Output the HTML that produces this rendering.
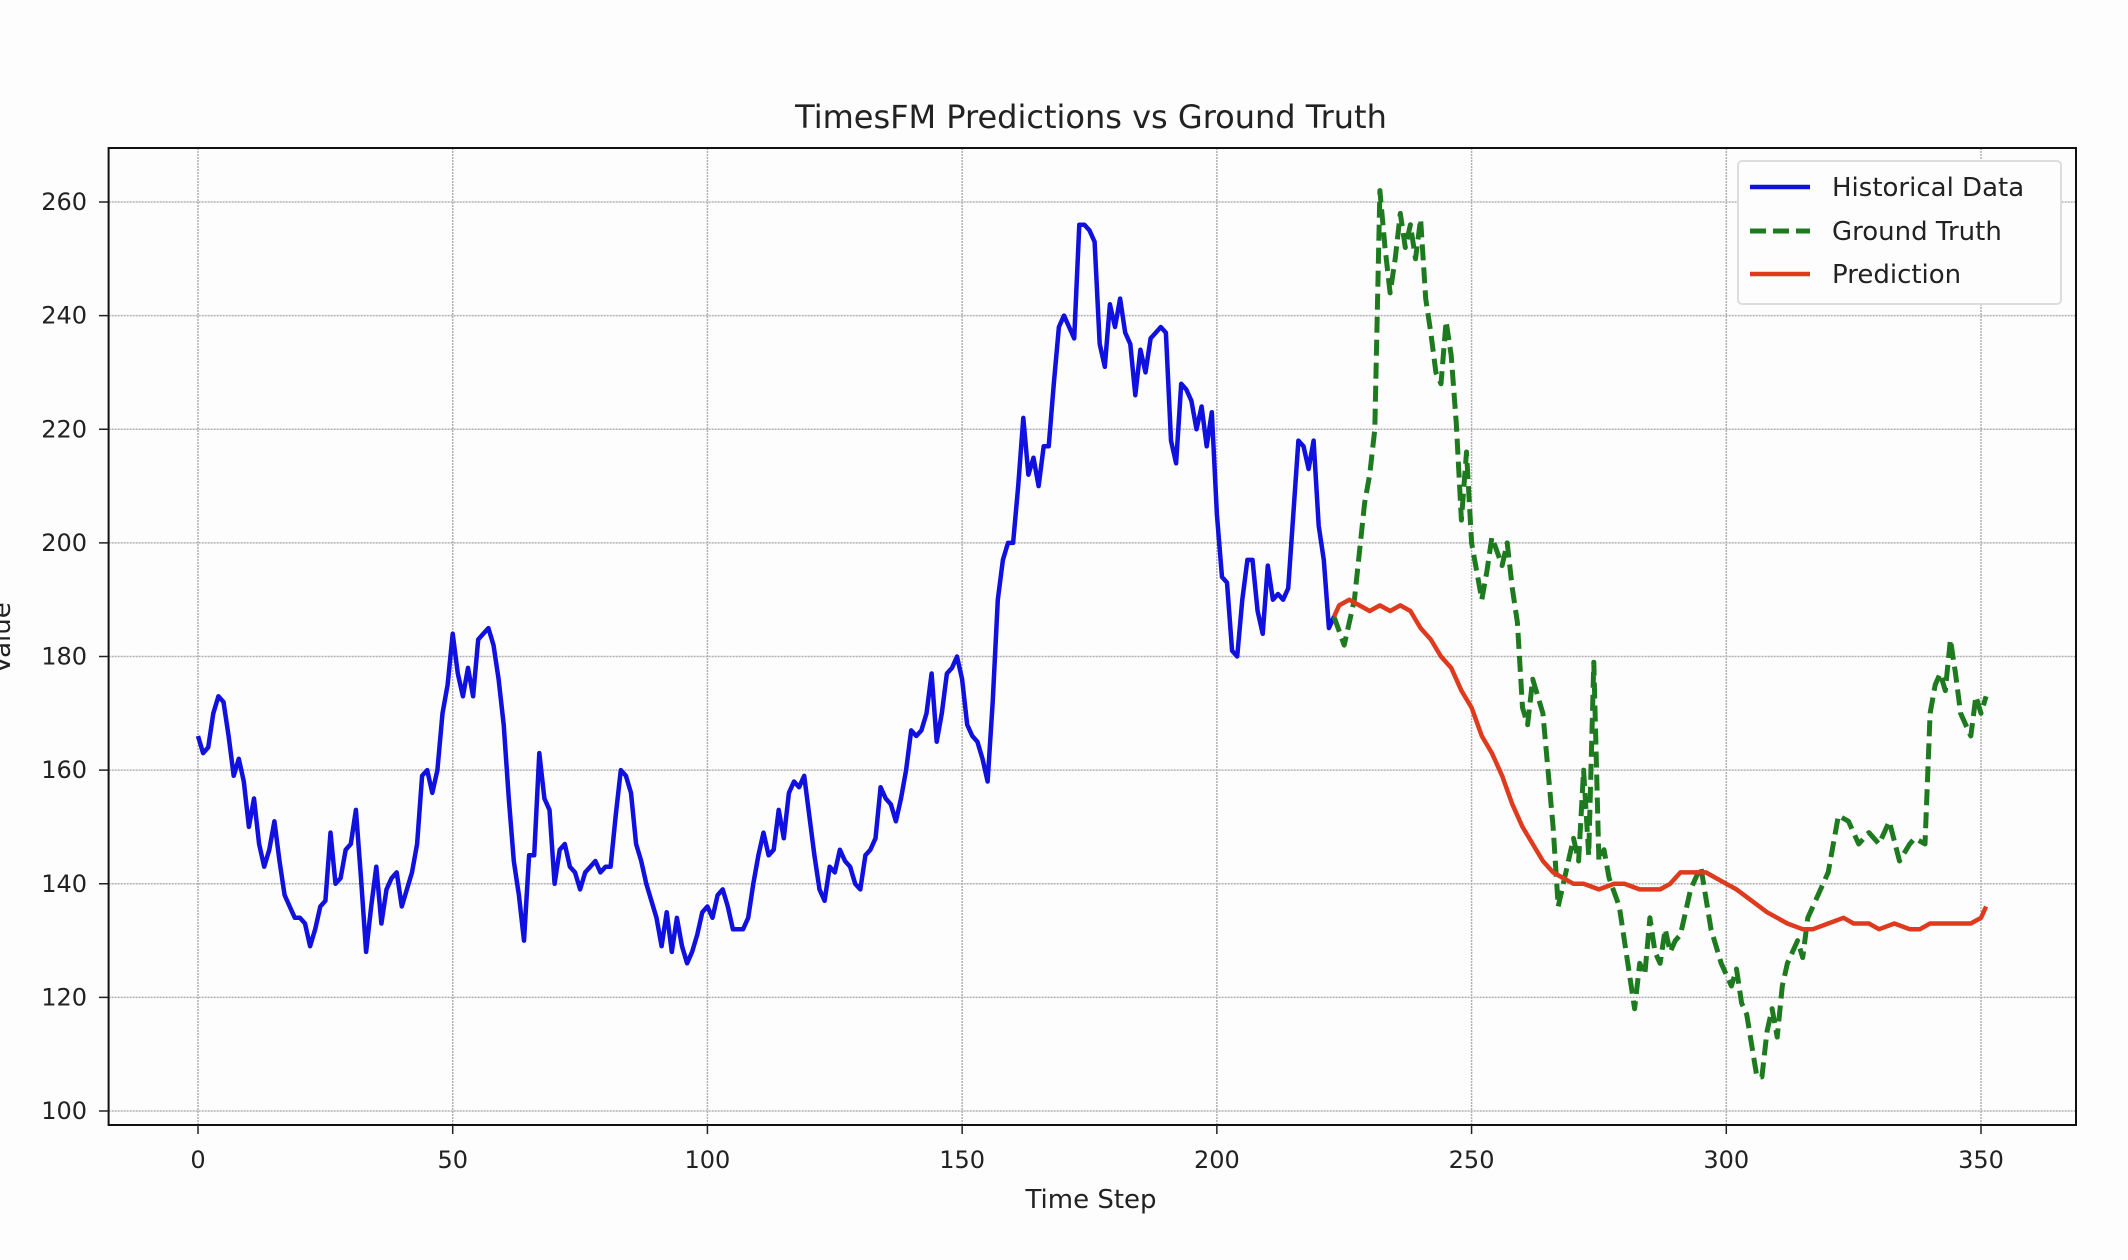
<!DOCTYPE html>
<html><head><meta charset="utf-8"><style>
html,body{margin:0;padding:0;background:#fdfdfd;}
svg{display:block;font-family:"DejaVu Sans","Liberation Sans",sans-serif;}
</style></head><body>
<svg id="chart" width="2128" height="1260" viewBox="0 0 2128 1260" xmlns="http://www.w3.org/2000/svg">
<rect x="0" y="0" width="2128" height="1260" fill="#fdfdfd"/>
<g id="grid"></g>
<g id="series"></g>
<rect x="108.6" y="148" width="1967.4" height="977" fill="none" stroke="#111" stroke-width="2"/>
<g id="ticks"></g>
<text x="1091" y="128" font-size="32" text-anchor="middle" fill="#222">TimesFM Predictions vs Ground Truth</text>
<text x="1091" y="1208" font-size="26" text-anchor="middle" fill="#222">Time Step</text>
<text x="0" y="0" font-size="26" text-anchor="middle" fill="#222" transform="translate(10,638) rotate(-90)">Value</text>
<g>
<rect x="1738" y="161" width="323" height="143" rx="4" fill="#fdfdfd" stroke="#ddd" stroke-width="2"/>
<line x1="1750" y1="187" x2="1810" y2="187" stroke="#1010e0" stroke-width="4.5"/>
<text x="1832" y="196" font-size="26" fill="#222">Historical Data</text>
<line x1="1750" y1="231" x2="1810" y2="231" stroke="#1e7a1e" stroke-width="5" stroke-dasharray="16,7"/>
<text x="1832" y="240" font-size="26" fill="#222">Ground Truth</text>
<line x1="1750" y1="274" x2="1810" y2="274" stroke="#e03a1e" stroke-width="4.5"/>
<text x="1832" y="283" font-size="26" fill="#222">Prediction</text>
</g>
</svg>
<script>
const histValues=[166,163,164,170,173,172,166,159,162,158,150,155,147,143,146,151,144,138,136,134,134,133,129,132,136,137,149,140,141,146,147,153,141,128,136,143,133,139,141,142,136,139,142,147,159,160,156,160,170,175,184,177,173,178,173,183,184,185,182,176,168,155,144,138,130,145,145,163,155,153,140,146,147,143,142,139,142,143,144,142,143,143,152,160,159,156,147,144,140,137,134,129,135,128,134,129,126,128,131,135,136,134,138,139,136,132,132,132,134,140,145,149,145,146,153,148,156,158,157,159,152,145,139,137,143,142,146,144,143,140,139,145,146,148,157,155,154,151,155,160,167,166,167,170,177,165,170,177,178,180,176,168,166,165,162,158,172,190,197,200,200,210,222,212,215,210,217,217,228,238,240,238,236,256,256,255,253,235,231,242,238,243,237,235,226,234,230,236,237,238,237,218,214,228,227,225,220,224,217,223,205,194,193,181,180,190,197,197,188,184,196,190,191,190,192,205,218,217,213,218,203,197,185,187];
const gtSteps=[223,225,227,229,230,231,232,233,234,235,236,237,238,239,240,241,242,243,244,245,246,247,248,249,250,252,253,254,256,257,258,259,260,261,262,264,266,267,268,270,271,272,273,274,275,276,277,279,282,283,284,285,286,287,288,289,290,291,293,295,297,299,301,302,303,304,306,307,308,309,310,311,312,313,314,315,316,317,318,319,320,322,324,326,328,330,332,334,336,337,339,340,341,342,343,344,345,346,347,348,349,350,351];
const gtValues=[187,182,190,207,212,220,262,252,244,250,258,252,256,250,257,243,237,230,228,239,233,221,204,216,200,190,195,201,196,200,192,186,171,168,176,170,150,136,140,148,144,160,145,179,144,146,141,136,118,126,124,134,128,126,132,128,130,131,139,143,132,126,122,125,119,117,106,106,114,118,113,122,126,128,130,127,134,136,138,140,142,152,151,147,149,147,151,144,147,148,147,170,175,177,174,183,177,170,168,166,173,170,173];
const predSteps=[223,224,226,228,230,232,234,236,238,240,242,244,246,248,250,252,254,256,258,260,262,264,266,268,270,272,275,278,280,283,285,287,289,291,294,296,298,300,302,305,308,310,312,315,317,320,323,325,328,330,333,336,338,340,342,345,348,350,351];
const predValues=[187,189,190,189,188,189,188,189,188,185,183,180,178,174,171,166,163,159,154,150,147,144,142,141,140,140,139,140,140,139,139,139,140,142,142,142,141,140,139,137,135,134,133,132,132,133,134,133,133,132,133,132,132,133,133,133,133,134,136];
const xTicks=[0,50,100,150,200,250,300,350];
const yTicks=[100,120,140,160,180,200,220,240,260];
const histStart=0;
</script>
<script>
const NS='http://www.w3.org/2000/svg';
const X0=198,X1=1981,T0=0,T1=350;
const Y0=1111,Y1=202,V0=100,V1=260;
function xs(t){return X0+(t-T0)*(X1-X0)/(T1-T0);}
function ys(v){return Y0-(v-V0)*(Y0-Y1)/(V1-V0);}
const grid=document.getElementById('grid');
const ticks=document.getElementById('ticks');
const series=document.getElementById('series');
function mk(tag,attrs,parent){const e=document.createElementNS(NS,tag);for(const k in attrs)e.setAttribute(k,attrs[k]);parent.appendChild(e);return e;}
xTicks.forEach(t=>{
  const g=mk('line',{x1:xs(t),x2:xs(t),y1:148,y2:1125,stroke:'#b0b0b0','stroke-width':1.5,'stroke-dasharray':'2,1'},grid);
  
  
  const tk=mk('line',{x1:xs(t),x2:xs(t),y1:1125,y2:1134,stroke:'#222','stroke-width':1.5},ticks);
  
  
  const tl=mk('text',{x:xs(t),y:1168,'font-size':24,'text-anchor':'middle',fill:'#222'},ticks);
  tl.textContent=t;
  
  
});
yTicks.forEach(v=>{
  const g=mk('line',{x1:108.6,x2:2076,y1:ys(v),y2:ys(v),stroke:'#b0b0b0','stroke-width':1.5,'stroke-dasharray':'2,1'},grid);
  
  
  const tk=mk('line',{x1:99,x2:108.6,y1:ys(v),y2:ys(v),stroke:'#222','stroke-width':1.5},ticks);
  
  
  const tl=mk('text',{x:87,y:ys(v)+8,'font-size':24,'text-anchor':'end',fill:'#222'},ticks);
  tl.textContent=v;
  
  
});
function path(steps,vals){return vals.map((v,i)=>(i?'L':'M')+xs(steps[i]).toFixed(1)+','+ys(v).toFixed(1)).join('');}
const hSteps=histValues.map((v,i)=>histStart+i);
const hp=mk('path',{d:path(hSteps,histValues),fill:'none',stroke:'#1010e0','stroke-width':4.5,'stroke-linejoin':'round'},series);


const gp=mk('path',{d:path(gtSteps,gtValues),fill:'none',stroke:'#1e7a1e','stroke-width':5,'stroke-dasharray':'16,7','stroke-linejoin':'round'},series);


const pp=mk('path',{d:path(predSteps,predValues),fill:'none',stroke:'#e03a1e','stroke-width':4.5,'stroke-linejoin':'round'},series);


</script>
</body></html>
